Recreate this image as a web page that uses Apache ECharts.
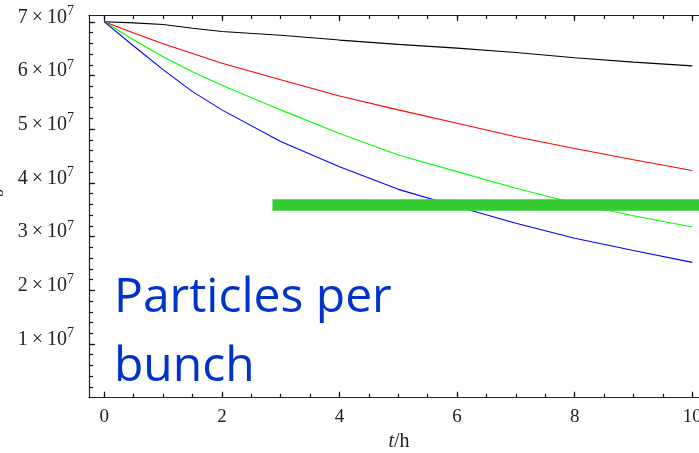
<!DOCTYPE html>
<html>
<head>
<meta charset="utf-8">
<script src="https://cdn.jsdelivr.net/npm/echarts@6/dist/echarts.min.js"></script>
<style>
  html, body { margin: 0; padding: 0; background: #fff; }
  #chart { width: 699px; height: 453px; }
</style>
</head>
<body>
<div id="chart"></div>
<script>
// time in hours, particle numbers in units of 10^7
var times = [0, 0.5, 1, 1.5, 2, 3, 4, 5, 6, 7, 8, 9, 10];
var blackVals = [7.00, 6.98, 6.95, 6.88, 6.82, 6.75, 6.66, 6.58, 6.51, 6.43, 6.33, 6.25, 6.18];
var redVals   = [7.00, 6.79, 6.59, 6.41, 6.23, 5.92, 5.62, 5.36, 5.11, 4.86, 4.64, 4.43, 4.23];
var greenVals = [7.00, 6.66, 6.35, 6.07, 5.82, 5.36, 4.92, 4.52, 4.21, 3.90, 3.62, 3.39, 3.18];
var blueVals  = [7.00, 6.55, 6.11, 5.70, 5.36, 4.77, 4.30, 3.88, 3.56, 3.25, 2.97, 2.74, 2.52];
var yMajor = [1, 2, 3, 4, 5, 6, 7];
var xMajor = [0, 2, 4, 6, 8, 10];
var barStart = 2.86, barLevel = 3.59;   // thick green level line
var xMin = -0.26, xMax = 10.114, yMax = 7.127;

var unit = 1e7;
function pairs(vals) {
  return times.map(function (t, i) { return [t, vals[i] * unit]; });
}
var yMinor = [];
for (var v = 0.2; v < yMax; v += 0.2) yMinor.push(Math.round(v * 10) / 10 * unit);
var xMinor = [];
for (var t = 0; t <= 10; t += 0.5) xMinor.push(t);

var serif = 'Liberation Serif';
var ink = '#222';
var frameLine = { color: ink, width: 1.2 };
var tickLine = { color: '#111', width: 1.2 };

function xAxisDef(pos, ticks, len, labels, line) {
  return {
    type: 'value', position: pos, min: xMin, max: xMax,
    axisLine: { show: line, onZero: false, lineStyle: frameLine },
    splitLine: { show: false },
    axisTick: { show: true, inside: true, length: len, customValues: ticks, lineStyle: tickLine },
    axisLabel: labels ? {
      show: true, customValues: xMajor, margin: 10,
      fontFamily: serif, fontSize: 19, color: ink
    } : { show: false }
  };
}

var chart = echarts.init(document.getElementById('chart'));
chart.setOption({
  animation: false,
  grid: { left: 89, right: 0, top: 15, bottom: 55.3, outerBoundsMode: 'none' },
  xAxis: [
    Object.assign(xAxisDef('bottom', xMajor, 6, true, true), {
      name: '{i|t}{n|/h}', nameLocation: 'middle', nameGap: 31,
      nameTextStyle: {
        padding: [0, 0, 0, 10],
        rich: {
          i: { fontFamily: serif, fontStyle: 'italic', fontSize: 20, color: ink },
          n: { fontFamily: serif, fontSize: 20, color: ink }
        }
      }
    }),
    xAxisDef('bottom', xMinor, 4, false, false),
    xAxisDef('top', xMajor, 6, false, true),
    xAxisDef('top', xMinor, 4, false, false)
  ],
  yAxis: [
    {
      type: 'value', position: 'left', min: 0, max: yMax * unit,
      axisLine: { show: true, onZero: false, lineStyle: frameLine },
      splitLine: { show: false },
      axisTick: { show: true, inside: true, length: 6, customValues: yMajor.map(function (d) { return d * unit; }), lineStyle: tickLine },
      axisLabel: {
        show: true, margin: 15, padding: [0, 0, 9, 0],
        customValues: yMajor.map(function (d) { return d * unit; }),
        formatter: function (val) { return '{a|' + Math.round(val / unit) + '\u2009\u00d7\u200910}{s|7}'; },
        rich: {
          a: { fontFamily: serif, fontSize: 20, color: ink },
          s: { fontFamily: serif, fontSize: 14, color: ink, padding: [0, 0, 12, 0] }
        }
      },
      name: '{n|N}{b|b}', nameLocation: 'middle', nameGap: 75, nameRotate: 90,
      nameTextStyle: {
        padding: [0, 0, 0, 12],
        rich: {
          n: { fontFamily: serif, fontStyle: 'italic', fontSize: 22, color: ink },
          b: { fontFamily: serif, fontSize: 16, color: ink, padding: [9, 0, 0, 0] }
        }
      }
    },
    {
      type: 'value', position: 'left', min: 0, max: yMax * unit,
      axisLine: { show: false, onZero: false },
      splitLine: { show: false },
      axisTick: { show: true, inside: true, length: 4, customValues: yMinor, lineStyle: tickLine },
      axisLabel: { show: false }
    }
  ],
  graphic: [
    { type: 'text', left: 114, top: 274, z: 20,
      style: { text: 'Particles per', fontFamily: 'Open Sans', fontSize: 48, fill: '#0033cc' } },
    { type: 'text', left: 114, top: 343, z: 20,
      style: { text: 'bunch', fontFamily: 'Open Sans', fontSize: 48, fill: '#0033cc' } }
  ],
  series: [
    { type: 'line', data: pairs(blackVals), showSymbol: false, lineStyle: { color: '#000000', width: 1.1 } },
    { type: 'line', data: pairs(redVals), showSymbol: false, lineStyle: { color: '#ff0000', width: 1.1 } },
    { type: 'line', data: pairs(greenVals), showSymbol: false, lineStyle: { color: '#00ff00', width: 1.1 } },
    { type: 'line', data: pairs(blueVals), showSymbol: false, lineStyle: { color: '#0000ff', width: 1.1 } },
    { type: 'line', data: [[barStart, barLevel * unit], [xMax, barLevel * unit]], showSymbol: false, z: 5,
      lineStyle: { color: '#33cc33', width: 11.5, cap: 'butt' } }
  ]
});
</script>
</body>
</html>
